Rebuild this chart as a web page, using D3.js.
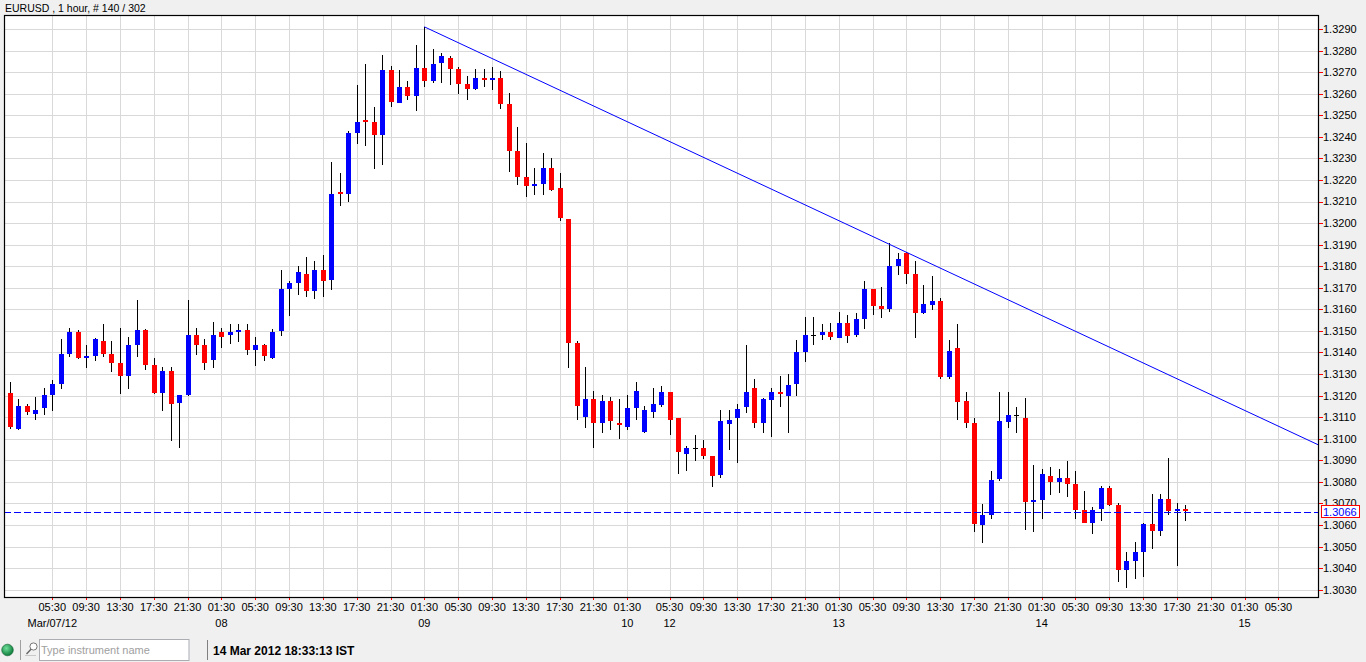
<!DOCTYPE html>
<html>
<head>
<meta charset="utf-8">
<script src="https://cdn.jsdelivr.net/npm/d3@7/dist/d3.min.js"></script>
<style>
  html, body { margin: 0; padding: 0; background: #f0f0f0; overflow: hidden; }
  svg { display: block; font-family: "Liberation Sans", Arial, sans-serif; }
</style>
</head>
<body>
<div id="chart"></div>
<script>
// ------------------------------------------------------------
// Data: EURUSD 1 hour candles
// ------------------------------------------------------------
const symbolTitle = "EURUSD , 1 hour, # 140 / 302";
const statusTime = "14 Mar 2012 18:33:13 IST";

const opens = [
  1.31212, 1.31047, 1.31152, 1.31116, 1.31144, 1.31203, 1.31255, 1.31394, 1.31495, 1.31376,
  1.31385, 1.31453, 1.31393, 1.31351, 1.31292, 1.31436, 1.31504, 1.31342, 1.31212, 1.31314,
  1.31163, 1.31201, 1.31481, 1.31435, 1.31367, 1.31495, 1.31483, 1.31496, 1.31503, 1.31412,
  1.31434, 1.31375, 1.31496, 1.31695, 1.31723, 1.31763, 1.31685, 1.31781, 1.31732, 1.32142,
  1.32135, 1.32422, 1.32480, 1.32471, 1.32412, 1.32712, 1.32560, 1.32633, 1.32593, 1.32721,
  1.32661, 1.32743, 1.32764, 1.32713, 1.32645, 1.32621, 1.32672, 1.32664, 1.32672, 1.32553,
  1.32335, 1.32214, 1.32172, 1.32182, 1.32256, 1.32162, 1.32021, 1.31445, 1.31101, 1.31183,
  1.31074, 1.31174, 1.31071, 1.31055, 1.31142, 1.31032, 1.31125, 1.31160, 1.31219, 1.31098,
  1.30933, 1.30959, 1.30959, 1.30922, 1.30830, 1.31072, 1.31100, 1.31151, 1.31233, 1.31072,
  1.31183, 1.31219, 1.31202, 1.31253, 1.31402, 1.31479, 1.31479, 1.31493, 1.31470, 1.31539,
  1.31479, 1.31553, 1.31693, 1.31615, 1.31600, 1.31799, 1.31860, 1.31764, 1.31583, 1.31624,
  1.31641, 1.31290, 1.31423, 1.31173, 1.31072, 1.30603, 1.30649, 1.30810, 1.31080, 1.31112,
  1.31098, 1.30710, 1.30717, 1.30829, 1.30802, 1.30820, 1.30792, 1.30671, 1.30611, 1.30674,
  1.30772, 1.30693, 1.30391, 1.30433, 1.30475, 1.30604, 1.30573, 1.30721, 1.30666, 1.30674
];
const highs = [
  1.31263, 1.31184, 1.31161, 1.31194, 1.31235, 1.31272, 1.31462, 1.31513, 1.31504, 1.31435,
  1.31465, 1.31532, 1.31453, 1.31513, 1.31473, 1.31643, 1.31510, 1.31374, 1.31333, 1.31333,
  1.31205, 1.31643, 1.31513, 1.31462, 1.31541, 1.31513, 1.31532, 1.31531, 1.31531, 1.31471,
  1.31440, 1.31511, 1.31781, 1.31730, 1.31800, 1.31841, 1.31823, 1.31851, 1.32281, 1.32230,
  1.32429, 1.32642, 1.32740, 1.32540, 1.32781, 1.32730, 1.32712, 1.32661, 1.32824, 1.32910,
  1.32809, 1.32790, 1.32774, 1.32723, 1.32681, 1.32713, 1.32713, 1.32723, 1.32704, 1.32601,
  1.32445, 1.32370, 1.32256, 1.32324, 1.32301, 1.32231, 1.32021, 1.31452, 1.31333, 1.31222,
  1.31202, 1.31193, 1.31183, 1.31202, 1.31262, 1.31151, 1.31234, 1.31245, 1.31219, 1.31098,
  1.30968, 1.31019, 1.30993, 1.30922, 1.31131, 1.31131, 1.31159, 1.31437, 1.31279, 1.31189,
  1.31233, 1.31289, 1.31302, 1.31460, 1.31563, 1.31563, 1.31530, 1.31539, 1.31590, 1.31572,
  1.31581, 1.31730, 1.31693, 1.31702, 1.31909, 1.31860, 1.31864, 1.31823, 1.31711, 1.31753,
  1.31651, 1.31460, 1.31530, 1.31219, 1.31098, 1.30699, 1.30852, 1.31219, 1.31219, 1.31149,
  1.31191, 1.30880, 1.30861, 1.30871, 1.30861, 1.30898, 1.30852, 1.30759, 1.30682, 1.30782,
  1.30782, 1.30702, 1.30473, 1.30520, 1.30610, 1.30744, 1.30744, 1.30912, 1.30702, 1.30695
];
const lows = [
  1.31044, 1.31042, 1.31112, 1.31088, 1.31112, 1.31130, 1.31231, 1.31381, 1.31370, 1.31328,
  1.31362, 1.31381, 1.31311, 1.31209, 1.31232, 1.31381, 1.31320, 1.31209, 1.31130, 1.30991,
  1.30959, 1.31198, 1.31390, 1.31320, 1.31330, 1.31422, 1.31441, 1.31450, 1.31389, 1.31338,
  1.31361, 1.31370, 1.31476, 1.31570, 1.31665, 1.31658, 1.31648, 1.31658, 1.31690, 1.32079,
  1.32098, 1.32366, 1.32357, 1.32250, 1.32269, 1.32537, 1.32556, 1.32570, 1.32519, 1.32630,
  1.32648, 1.32650, 1.32641, 1.32599, 1.32570, 1.32618, 1.32632, 1.32618, 1.32530, 1.32237,
  1.32177, 1.32121, 1.32131, 1.32131, 1.32149, 1.32010, 1.31329, 1.31087, 1.31050, 1.30959,
  1.31027, 1.31041, 1.31001, 1.31041, 1.31087, 1.31027, 1.31097, 1.31146, 1.31016, 1.30835,
  1.30849, 1.30895, 1.30905, 1.30775, 1.30816, 1.30946, 1.30888, 1.31118, 1.31049, 1.31025,
  1.31007, 1.31146, 1.31025, 1.31197, 1.31358, 1.31437, 1.31456, 1.31456, 1.31468, 1.31446,
  1.31474, 1.31507, 1.31576, 1.31558, 1.31589, 1.31759, 1.31717, 1.31467, 1.31578, 1.31595,
  1.31276, 1.31276, 1.31086, 1.31049, 1.30566, 1.30516, 1.30626, 1.30806, 1.31049, 1.31025,
  1.30575, 1.30566, 1.30626, 1.30737, 1.30747, 1.30728, 1.30626, 1.30610, 1.30556, 1.30620,
  1.30690, 1.30335, 1.30307, 1.30349, 1.30358, 1.30489, 1.30550, 1.30648, 1.30409, 1.30620
];
const closes = [
  1.31056, 1.31152, 1.31126, 1.31133, 1.31203, 1.31254, 1.31393, 1.31495, 1.31374, 1.31384,
  1.31462, 1.31394, 1.31353, 1.31292, 1.31435, 1.31504, 1.31343, 1.31212, 1.31314, 1.31163,
  1.31201, 1.31481, 1.31436, 1.31353, 1.31481, 1.31473, 1.31495, 1.31503, 1.31412, 1.31434,
  1.31385, 1.31494, 1.31693, 1.31721, 1.31772, 1.31685, 1.31781, 1.31732, 1.32133, 1.32135,
  1.32420, 1.32471, 1.32473, 1.32412, 1.32712, 1.32562, 1.32633, 1.32593, 1.32721, 1.32661,
  1.32740, 1.32774, 1.32713, 1.32645, 1.32621, 1.32672, 1.32664, 1.32672, 1.32553, 1.32335,
  1.32214, 1.32172, 1.32180, 1.32256, 1.32154, 1.32024, 1.31445, 1.31152, 1.31183, 1.31074,
  1.31174, 1.31083, 1.31063, 1.31142, 1.31220, 1.31132, 1.31160, 1.31219, 1.31089, 1.30942,
  1.30959, 1.30959, 1.30923, 1.30830, 1.31080, 1.31089, 1.31140, 1.31219, 1.31072, 1.31182,
  1.31219, 1.31211, 1.31251, 1.31400, 1.31479, 1.31479, 1.31493, 1.31470, 1.31539, 1.31479,
  1.31553, 1.31693, 1.31615, 1.31600, 1.31799, 1.31832, 1.31764, 1.31583, 1.31623, 1.31641,
  1.31290, 1.31409, 1.31174, 1.31072, 1.30603, 1.30648, 1.30810, 1.31080, 1.31112, 1.31112,
  1.30710, 1.30717, 1.30838, 1.30802, 1.30820, 1.30793, 1.30672, 1.30611, 1.30671, 1.30772,
  1.30694, 1.30391, 1.30431, 1.30473, 1.30604, 1.30573, 1.30721, 1.30666, 1.30674, 1.30666
];

// x axis: bar index of each tick, the hour label and the date label below it
const tickBars = [5, 9, 13, 17, 21, 25, 29, 33, 37, 41, 45, 49, 53, 57, 61, 65, 69, 73,
                  78, 82, 86, 90, 94, 98, 102, 106, 110, 114, 118, 122, 126, 130, 134, 138, 142, 146, 150];
const tickTimes = ["05:30", "09:30", "13:30", "17:30", "21:30", "01:30", "05:30", "09:30", "13:30",
                   "17:30", "21:30", "01:30", "05:30", "09:30", "13:30", "17:30", "21:30", "01:30",
                   "05:30", "09:30", "13:30", "17:30", "21:30", "01:30", "05:30", "09:30", "13:30",
                   "17:30", "21:30", "01:30", "05:30", "09:30", "13:30", "17:30", "21:30", "01:30", "05:30"];
const dateBars = [5, 25, 49, 73, 78, 98, 122, 146];
const dateLabels = ["Mar/07/12", "08", "09", "10", "12", "13", "14", "15"];

// price axis ticks
const priceTicks = d3.range(13030, 13291, 10).map(v => v / 10000);

// current bid and the hand drawn trend line (bar index, price)
const bidPrice = 1.3066;
const trendBars = [49, 154.7];
const trendPrices = [1.32910, 1.30972];

// ------------------------------------------------------------
// Layout
// ------------------------------------------------------------
const width = 1366, height = 662;
const plot = { left: 4, top: 15, right: 1318, bottom: 597 };

const x = d3.scaleLinear().domain([0, 139]).range([10, 1185.4]);
const y = d3.scaleLinear().domain([1.3030, 1.3290]).range([589.7, 29]);

const svg = d3.select("#chart").append("svg")
    .attr("width", width)
    .attr("height", height);

svg.append("rect").attr("width", width).attr("height", height).attr("fill", "#f0f0f0");

// title
svg.append("text")
    .attr("x", 5).attr("y", 11.5)
    .attr("font-size", "10.5px").attr("fill", "#000")
    .text(symbolTitle);

// plot background
svg.append("rect")
    .attr("x", plot.left).attr("y", plot.top)
    .attr("width", plot.right - plot.left).attr("height", plot.bottom - plot.top)
    .attr("fill", "#fff");

const clip = svg.append("defs").append("clipPath").attr("id", "plotclip");
clip.append("rect")
    .attr("x", plot.left).attr("y", plot.top)
    .attr("width", plot.right - plot.left).attr("height", plot.bottom - plot.top);

const g = svg.append("g").attr("clip-path", "url(#plotclip)");

// grid
g.append("g").selectAll("line").data(priceTicks).enter().append("line")
    .attr("x1", plot.left).attr("x2", plot.right)
    .attr("y1", d => Math.round(y(d)) + 0.5).attr("y2", d => Math.round(y(d)) + 0.5)
    .attr("stroke", "#d9d9d9").attr("stroke-width", 1);

g.append("g").selectAll("line").data(tickBars).enter().append("line")
    .attr("x1", d => Math.round(x(d)) + 0.5).attr("x2", d => Math.round(x(d)) + 0.5)
    .attr("y1", plot.top).attr("y2", plot.bottom)
    .attr("stroke", "#d9d9d9").attr("stroke-width", 1);

// candles
const candles = opens.map((o, i) => ({ i, o, h: highs[i], l: lows[i], c: closes[i] }));
const bodyW = 5;

const cg = g.append("g").attr("shape-rendering", "crispEdges");
cg.selectAll("line.wick").data(candles).enter().append("line")
    .attr("class", "wick")
    .attr("x1", d => Math.round(x(d.i)) + 0.5).attr("x2", d => Math.round(x(d.i)) + 0.5)
    .attr("y1", d => y(d.h)).attr("y2", d => y(d.l))
    .attr("stroke", "#000").attr("stroke-width", 1);

cg.selectAll("rect.body").data(candles).enter().append("rect")
    .attr("class", "body")
    .attr("x", d => Math.round(x(d.i)) - 2)
    .attr("width", bodyW)
    .attr("y", d => Math.round(y(Math.max(d.o, d.c))))
    .attr("height", d => Math.max(1, Math.round(Math.abs(y(d.o) - y(d.c)))))
    .attr("fill", d => d.c > d.o ? "#0000ff" : (d.c < d.o ? "#ff0000" : "#000"));

// trend line
g.append("line")
    .attr("x1", x(trendBars[0])).attr("y1", y(trendPrices[0]))
    .attr("x2", x(trendBars[1])).attr("y2", y(trendPrices[1]))
    .attr("stroke", "#0000ff").attr("stroke-width", 1);

// bid line
g.append("line")
    .attr("x1", plot.left).attr("x2", plot.right)
    .attr("y1", Math.round(y(bidPrice)) + 0.5).attr("y2", Math.round(y(bidPrice)) + 0.5)
    .attr("stroke", "#0000ff").attr("stroke-width", 1)
    .attr("stroke-dasharray", "7,3");

// plot border
svg.append("rect")
    .attr("x", plot.left + 0.5).attr("y", plot.top + 0.5)
    .attr("width", plot.right - plot.left).attr("height", plot.bottom - plot.top)
    .attr("fill", "none").attr("stroke", "#000").attr("stroke-width", 1.2);

// price axis (right)
const py = svg.append("g");
py.selectAll("line").data(priceTicks).enter().append("line")
    .attr("x1", plot.right + 1).attr("x2", plot.right + 5)
    .attr("y1", d => Math.round(y(d)) + 0.5).attr("y2", d => Math.round(y(d)) + 0.5)
    .attr("stroke", "#ff0000").attr("stroke-width", 1);
py.selectAll("text").data(priceTicks).enter().append("text")
    .attr("x", plot.right + 5).attr("y", d => y(d))
    .attr("dy", "0.36em")
    .attr("font-size", "11px").attr("fill", "#000")
    .text(d => d.toFixed(4));

// current price box
const by = Math.round(y(bidPrice));
svg.append("rect")
    .attr("x", 1321.5).attr("y", by - 6.5)
    .attr("width", 38).attr("height", 12)
    .attr("fill", "#fff").attr("stroke", "#ff0000").attr("stroke-width", 1);
svg.append("text")
    .attr("x", 1323).attr("y", by)
    .attr("dy", "0.36em")
    .attr("font-size", "11px").attr("fill", "#0000ff")
    .text(bidPrice.toFixed(4));

// time axis (bottom)
const tx = svg.append("g");
tx.selectAll("line").data(tickBars).enter().append("line")
    .attr("x1", d => Math.round(x(d)) + 0.5).attr("x2", d => Math.round(x(d)) + 0.5)
    .attr("y1", plot.bottom + 1).attr("y2", plot.bottom + 3)
    .attr("stroke", "#ff0000").attr("stroke-width", 1);
tx.selectAll("text").data(tickBars).enter().append("text")
    .attr("x", d => x(d)).attr("y", 611)
    .attr("text-anchor", "middle")
    .attr("font-size", "11px").attr("fill", "#000")
    .text((d, i) => tickTimes[i]);
tx.selectAll("text.date").data(dateBars).enter().append("text")
    .attr("class", "date")
    .attr("x", d => x(d)).attr("y", 627)
    .attr("text-anchor", "middle")
    .attr("font-size", "11px").attr("fill", "#000")
    .text((d, i) => dateLabels[i]);

// ------------------------------------------------------------
// Status bar
// ------------------------------------------------------------
const sb = svg.append("g");
const grad = svg.select("defs").append("radialGradient").attr("id", "led")
    .attr("cx", "40%").attr("cy", "35%").attr("r", "65%");
grad.append("stop").attr("offset", "0%").attr("stop-color", "#6fe09a");
grad.append("stop").attr("offset", "100%").attr("stop-color", "#0c7a3a");
sb.append("circle").attr("cx", 7.5).attr("cy", 650).attr("r", 5.8)
    .attr("fill", "url(#led)").attr("stroke", "#0b5e2c").attr("stroke-width", 0.6);
sb.append("line").attr("x1", 20.5).attr("x2", 20.5).attr("y1", 640).attr("y2", 660)
    .attr("stroke", "#a0a0a0");
sb.append("circle").attr("cx", 33.5).attr("cy", 646.5).attr("r", 3.6)
    .attr("fill", "#fff").attr("stroke", "#777").attr("stroke-width", 1);
sb.append("line").attr("x1", 31).attr("y1", 649.3).attr("x2", 26.5).attr("y2", 654)
    .attr("stroke", "#666").attr("stroke-width", 1.4);
sb.append("line").attr("x1", 25).attr("y1", 655.5).attr("x2", 36).attr("y2", 655.5)
    .attr("stroke", "#c8c8c8").attr("stroke-width", 1);
sb.append("rect").attr("x", 39.5).attr("y", 639.5).attr("width", 149.5).attr("height", 21)
    .attr("fill", "#fff").attr("stroke", "#abadb3").attr("stroke-width", 1);
sb.append("text").attr("x", 41).attr("y", 654)
    .attr("font-size", "11px").attr("fill", "#a0a0a0")
    .text("Type instrument name");
sb.append("line").attr("x1", 207.5).attr("x2", 207.5).attr("y1", 640).attr("y2", 660)
    .attr("stroke", "#808080");
sb.append("text").attr("x", 213).attr("y", 655)
    .attr("font-size", "12px").attr("font-weight", "bold").attr("fill", "#000")
    .text(statusTime);
</script>
</body>
</html>
